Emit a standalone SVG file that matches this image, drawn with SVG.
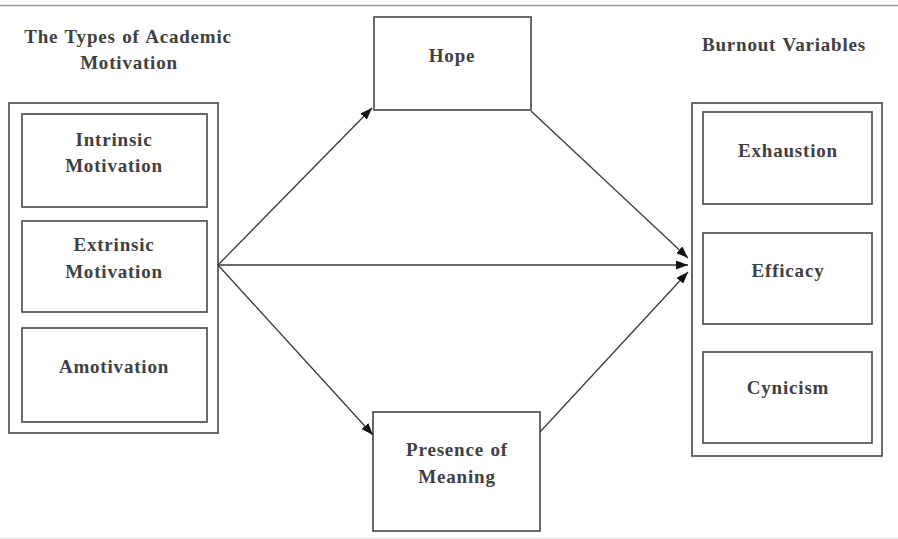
<svg xmlns="http://www.w3.org/2000/svg" width="898" height="539" viewBox="0 0 898 539">
<style>
  .box { fill: #ffffff; stroke: #5a5a5a; stroke-width: 1.8; }
  .t { font-family: "Liberation Serif", "Times New Roman", serif; font-weight: bold; font-size: 19px; fill: #404040; text-anchor: middle; letter-spacing: 0.8px; word-spacing: 1px; }
  .edge { stroke: #3a3a3a; stroke-width: 1.3; fill: none; marker-end: url(#arr); }
  .rule { stroke: #9a9a9a; stroke-width: 1.6; }
</style>
<defs>
  <marker id="arr" viewBox="0 0 12 9" refX="12" refY="4.5" markerWidth="12" markerHeight="9" markerUnits="userSpaceOnUse" orient="auto">
    <path d="M0,0 L12,4.5 L0,9 Z" fill="#111"/>
  </marker>
</defs>
<rect width="898" height="539" fill="#ffffff"/>
<line class="rule" x1="0" y1="5.5" x2="898" y2="5.5"/>
<line x1="0" y1="538" x2="898" y2="538" stroke="#e6e6e6" stroke-width="1"/>

<g id="title-left">
  <text class="t" x="128" y="43" word-spacing="5">The Types of Academic</text>
  <text class="t" x="129" y="69">Motivation</text>
</g>
<g id="title-right">
  <text class="t" x="784" y="51" word-spacing="3">Burnout Variables</text>
</g>

<g id="motivation-group">
  <rect class="box" x="9" y="103" width="209" height="330"/>
  <g id="intrinsic">
    <rect class="box" x="22" y="114" width="185" height="93"/>
    <text class="t" x="114" y="146">Intrinsic</text>
    <text class="t" x="114" y="172">Motivation</text>
  </g>
  <g id="extrinsic">
    <rect class="box" x="22" y="221" width="185" height="91"/>
    <text class="t" x="114" y="251">Extrinsic</text>
    <text class="t" x="114" y="278">Motivation</text>
  </g>
  <g id="amotivation">
    <rect class="box" x="22" y="328" width="185" height="94"/>
    <text class="t" x="114" y="373">Amotivation</text>
  </g>
</g>

<g id="hope">
  <rect class="box" x="374" y="17" width="157" height="93"/>
  <text class="t" x="452" y="62">Hope</text>
</g>

<g id="meaning">
  <rect class="box" x="373" y="412" width="167" height="119"/>
  <text class="t" x="457" y="456">Presence of</text>
  <text class="t" x="457" y="483">Meaning</text>
</g>

<g id="burnout-group">
  <rect class="box" x="692" y="103" width="190" height="353"/>
  <g id="exhaustion">
    <rect class="box" x="703" y="112" width="169" height="92"/>
    <text class="t" x="788" y="157">Exhaustion</text>
  </g>
  <g id="efficacy">
    <rect class="box" x="703" y="233" width="169" height="91"/>
    <text class="t" x="788" y="277">Efficacy</text>
  </g>
  <g id="cynicism">
    <rect class="box" x="703" y="352" width="169" height="91"/>
    <text class="t" x="788" y="394">Cynicism</text>
  </g>
</g>

<g id="connectors">
  <line class="edge" x1="218" y1="265" x2="372" y2="108"/>
  <line class="edge" x1="218" y1="265" x2="688" y2="265"/>
  <line class="edge" x1="218" y1="265" x2="373" y2="435"/>
  <line class="edge" x1="531" y1="111" x2="688" y2="258"/>
  <line class="edge" x1="540" y1="432" x2="688" y2="272"/>
</g>
</svg>
